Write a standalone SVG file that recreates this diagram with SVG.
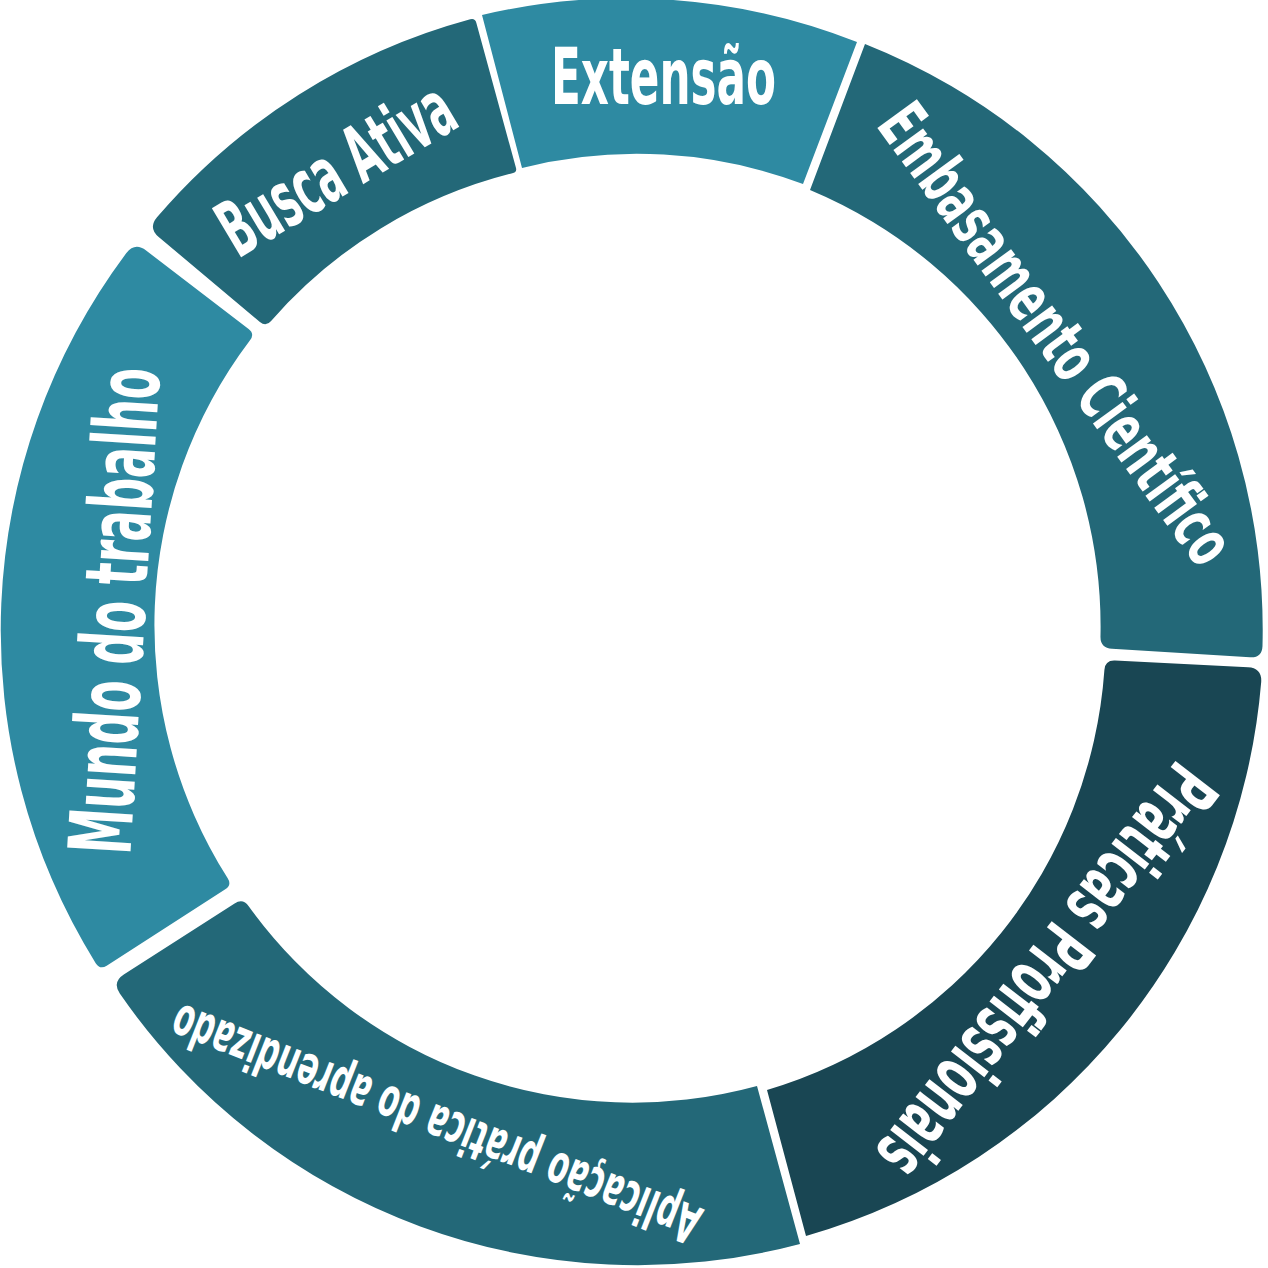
<svg xmlns="http://www.w3.org/2000/svg" width="1268" height="1268" viewBox="0 0 1268 1268">
<style>
.light{fill:#2E8AA2}
.mid{fill:#236878}
.dark{fill:#194653}
.lbl{fill:#FFFFFF;font-family:'Liberation Sans Narrow','DejaVu Sans Condensed','Liberation Sans',sans-serif;font-weight:bold}
</style>
<rect x="0" y="0" width="1268" height="1268" fill="#FFFFFF"/>
<g id="extensao">
<path class="light" d="M 482,15 A 630 630 0 0 1 857,42 L 803,184 A 473 473 0 0 0 522,168 Z"/>
<text class="lbl" x="551" y="104" font-size="79" textLength="225" lengthAdjust="spacingAndGlyphs">Extensão</text>
</g>
<g id="embasamento">
<path class="mid" d="M 865,44 A 630 630 0 0 1 1262.5,646 Q 1262,658 1250,657.3 L 1112,648.7 Q 1100,648 1100.5,636 A 473 473 0 0 0 810,190 Z"/>
<text class="lbl" transform="translate(1037.5,347.5) rotate(53.9)" x="-275.5" y="0" font-size="67" textLength="551" lengthAdjust="spacingAndGlyphs">Embasamento Científico</text>
</g>
<g id="praticas">
<path class="dark" d="M 1115,660.5 L 1248,667.3 Q 1262,668 1261.2,682 A 630 630 0 0 1 806,1236 L 767,1090 A 473 473 0 0 0 1104.4,670 Q 1105,660 1115,660.5 Z"/>
<text class="lbl" transform="translate(1025.5,955) rotate(127.7)" x="-249" y="0" font-size="77" textLength="498" lengthAdjust="spacingAndGlyphs">Práticas Profissionais</text>
</g>
<g id="aplicacao">
<path class="mid" d="M 800,1244 A 630 630 0 0 1 119.8,993.6 Q 112,982 123.8,974.4 L 234.6,903.4 Q 243,898 248.7,906.2 A 473 473 0 0 0 757,1086 Z"/>
<text class="lbl" transform="translate(442.5,1106.5) rotate(201.5)" x="-282" y="0" font-size="54" textLength="564" lengthAdjust="spacingAndGlyphs">Aplicação prática do aprendizado</text>
</g>
<g id="mundo">
<path class="light" d="M 95.7,963.2 A 630 630 0 0 1 126.4,253 Q 135,242 146.1,250.5 L 248.6,329.1 Q 255,334 250,340.3 A 473 473 0 0 0 227.7,878.3 Q 232,885 225.3,889.3 L 106.7,965.7 Q 100,970 95.7,963.2 Z"/>
<text class="lbl" transform="translate(145,612.5) rotate(-86.5)" x="-243.5" y="0" font-size="87" textLength="487" lengthAdjust="spacingAndGlyphs">Mundo do trabalho</text>
</g>
<g id="busca">
<path class="mid" d="M 157,217.3 A 630 630 0 0 1 470.2,19.3 Q 475,18 476.3,22.8 L 516,168.1 Q 517,172 513.1,173 A 473 473 0 0 0 271.1,320.9 Q 266,327 259.9,321.9 L 158.7,237 Q 148,228 157,217.3 Z"/>
<text class="lbl" transform="translate(350,192) rotate(-30.9)" x="-130.5" y="0" font-size="78" textLength="261" lengthAdjust="spacingAndGlyphs">Busca Ativa</text>
</g>
</svg>
